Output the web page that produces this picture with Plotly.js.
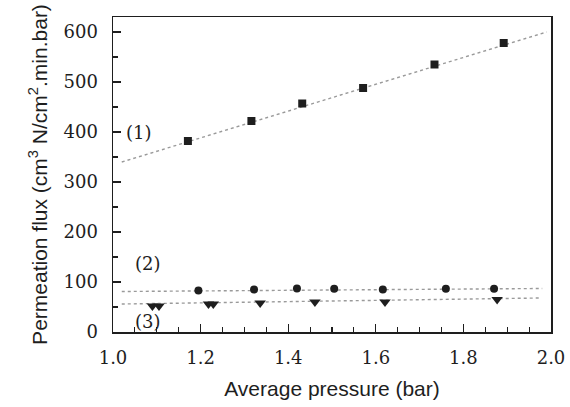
<!DOCTYPE html>
<html>
<head>
<meta charset="utf-8">
<script src="https://cdn.plot.ly/plotly-3.0.1.min.js"></script>
<style>html,body{margin:0;padding:0;background:#fff}#chart{width:570px;height:407px}</style>
</head>
<body>
<div id="chart"></div>
<script>
// Series (1): squares
const x1 = [1.171, 1.316, 1.432, 1.571, 1.734, 1.892];
const y1 = [382, 422, 457, 488, 535, 578];
// Series (2): circles
const x2 = [1.195, 1.322, 1.420, 1.505, 1.616, 1.760, 1.870];
const y2 = [83, 85, 87, 86.5, 85, 86.5, 86.5];
// Series (3): down triangles
const x3 = [1.090, 1.105, 1.218, 1.229, 1.336, 1.461, 1.621, 1.877];
const y3 = [52, 52, 56, 56, 58, 60, 60, 65];
// Dotted trend lines (endpoints)
const fit1X = [1.02, 1.99], fit1Y = [340, 600];
const fit2X = [1.02, 1.98], fit2Y = [81, 87];
const fit3X = [1.02, 1.975], fit3Y = [56, 68];
// Curve labels
const labelText = ['(1)', '(2)', '(3)'];
const labelX = [1.06, 1.08, 1.08];
const labelY = [400, 138, 22];

const serif = 'DejaVu Serif, serif';
const sans = 'Liberation Sans, Arial, sans-serif';
const ink = '#1e1e1e';
const lineStyle = {color: '#9a9a9a', width: 1.4, dash: 'dot'};

const traces = [
  {x: fit1X, y: fit1Y, mode: 'lines', line: lineStyle, hoverinfo: 'skip'},
  {x: fit2X, y: fit2Y, mode: 'lines', line: lineStyle, hoverinfo: 'skip'},
  {x: fit3X, y: fit3Y, mode: 'lines', line: lineStyle, hoverinfo: 'skip'},
  {x: x1, y: y1, mode: 'markers', marker: {symbol: 'square', size: 8, color: ink}},
  {x: x2, y: y2, mode: 'markers', marker: {symbol: 'circle', size: 8, color: ink}},
  {x: x3, y: y3, mode: 'markers', marker: {symbol: 'triangle-down', size: 10, color: ink}}
];

const annotations = labelText.map((t, i) => ({
  x: labelX[i], y: labelY[i], xref: 'x', yref: 'y', text: t, showarrow: false,
  font: {family: serif, size: 18, color: ink}
}));

const layout = {
  width: 570, height: 407,
  margin: {l: 113, r: 19, t: 17, b: 75},
  paper_bgcolor: '#fff', plot_bgcolor: '#fff',
  showlegend: false,
  annotations: annotations,
  xaxis: {
    range: [1.0, 2.0], tickvals: [1.0, 1.2, 1.4, 1.6, 1.8, 2.0],
    ticktext: ['1.0', '1.2', '1.4', '1.6', '1.8', '2.0'],
    ticks: 'inside', ticklen: 8, tickwidth: 1.3, tickcolor: ink,
    minor: {dtick: 0.05, ticks: 'inside', ticklen: 5, tickwidth: 1.1, tickcolor: ink, showgrid: false},
    showgrid: false, zeroline: false,
    showline: true, linecolor: ink, linewidth: 1.5, mirror: true,
    ticklabelstandoff: 9,
    tickfont: {family: serif, size: 18, color: ink},
    title: {text: 'Average pressure (bar)', font: {family: sans, size: 21, color: ink}, standoff: 14}
  },
  yaxis: {
    range: [0, 630], tickvals: [0, 100, 200, 300, 400, 500, 600],
    ticks: 'inside', ticklen: 8, tickwidth: 1.3, tickcolor: ink,
    minor: {dtick: 50, ticks: 'inside', ticklen: 5, tickwidth: 1.1, tickcolor: ink, showgrid: false},
    showgrid: false, zeroline: false,
    showline: true, linecolor: ink, linewidth: 1.5, mirror: true,
    ticklabelstandoff: 10,
    tickfont: {family: serif, size: 18, color: ink},
    title: {text: 'Permeation flux (cm<sup>3</sup> N/cm<sup>2</sup>.min.bar)', font: {family: sans, size: 21, color: ink}, standoff: 10}
  }
};

Plotly.newPlot('chart', traces, layout, {staticPlot: true, displayModeBar: false});
</script>
</body>
</html>
